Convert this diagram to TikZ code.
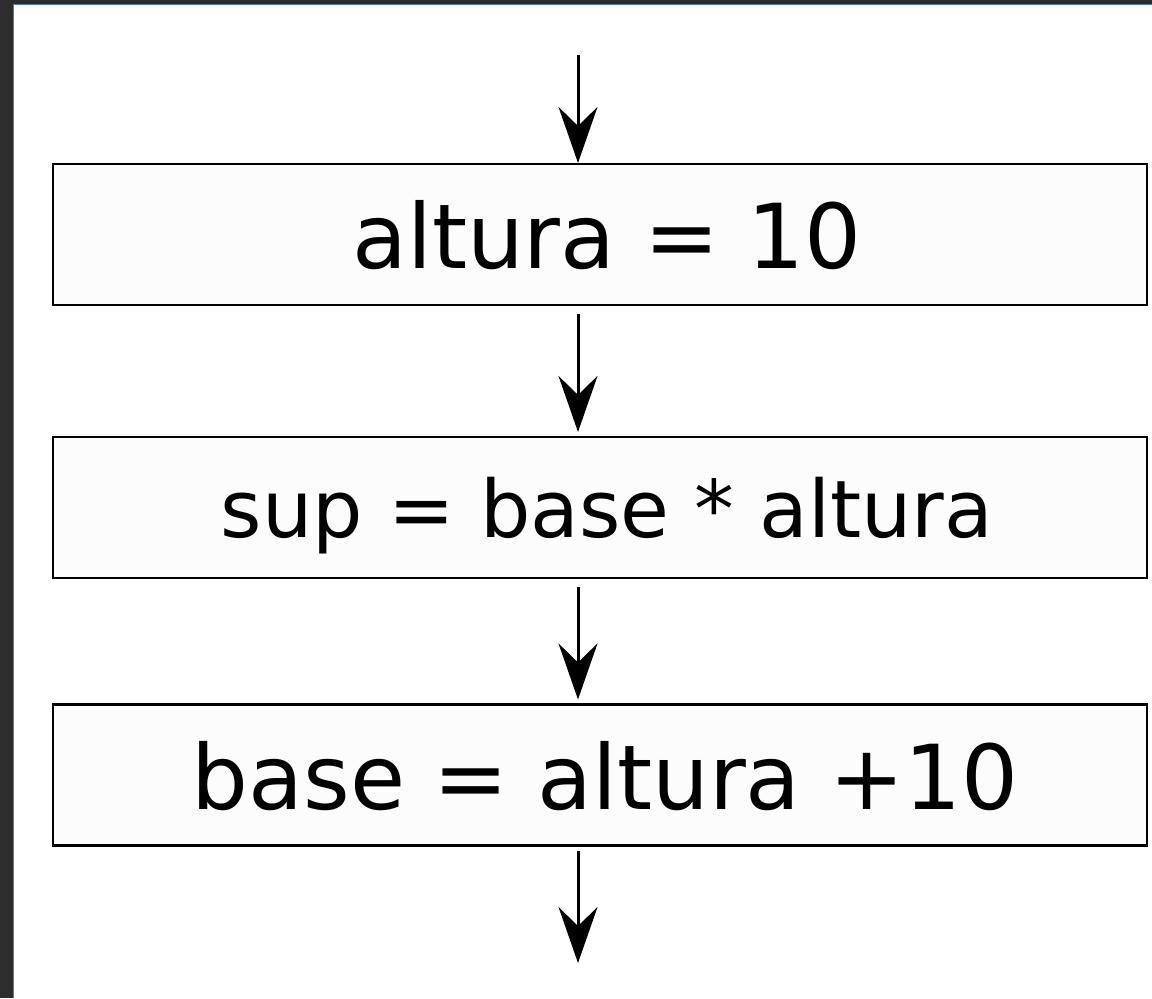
\documentclass[tikz,border=0pt]{standalone}
\usepackage{fontspec}
\setmainfont{DejaVu Sans}
\usetikzlibrary{arrows.meta, positioning, calc}
\definecolor{framegray}{RGB}{45,45,45}
\definecolor{frameblue}{RGB}{78,122,182}

\begin{document}
\begin{tikzpicture}[
  pbox/.style={draw=black, line width=1.2pt, fill=white!99!black, minimum width=21.88cm, minimum height=2.82cm, inner sep=0pt, text depth=0pt},
  big/.style={font=\fontsize{51pt}{60pt}\selectfont},
  mid/.style={font=\fontsize{45.2pt}{54pt}\selectfont},
  flow/.style={line width=1.7pt, -{Stealth[length=1.12cm, width=0.78cm, inset=0.38cm]}}
]
  \useasboundingbox (0,0) rectangle (23.04,-19.96);
  % window frame
  \fill[framegray] (0,0) rectangle (23.04,-19.96);
  \fill[frameblue] (0.26,-0.08) rectangle (23.04,-19.96);
  \fill[white] (0.29,-0.10) rectangle (23.04,-19.96);

  \node[pbox, big] (b1) at (12.0,-4.69) {\hspace{0.28cm}altura = 10};
  \node[pbox, mid] (b2) at (12.0,-10.15) {\hspace{0.28cm}sup = base * altura};
  \node[pbox, big] (b3) at (12.0,-15.5) {\hspace{0.2cm}base = altura +10};

  \coordinate (in) at (11.56,-1.10);
  \coordinate (out) at (11.56,-19.26);

  \draw[flow] (in) -- (b1.north -| in);
  \draw[flow] ($(b1.south -| in)+(0,-0.16)$) -- ($(b2.north -| in)+(0,0.08)$);
  \draw[flow] ($(b2.south -| in)+(0,-0.16)$) -- ($(b3.north -| in)+(0,0.08)$);
  \draw[flow] ($(b3.south -| in)+(0,-0.08)$) -- (out);
\end{tikzpicture}
\end{document}
